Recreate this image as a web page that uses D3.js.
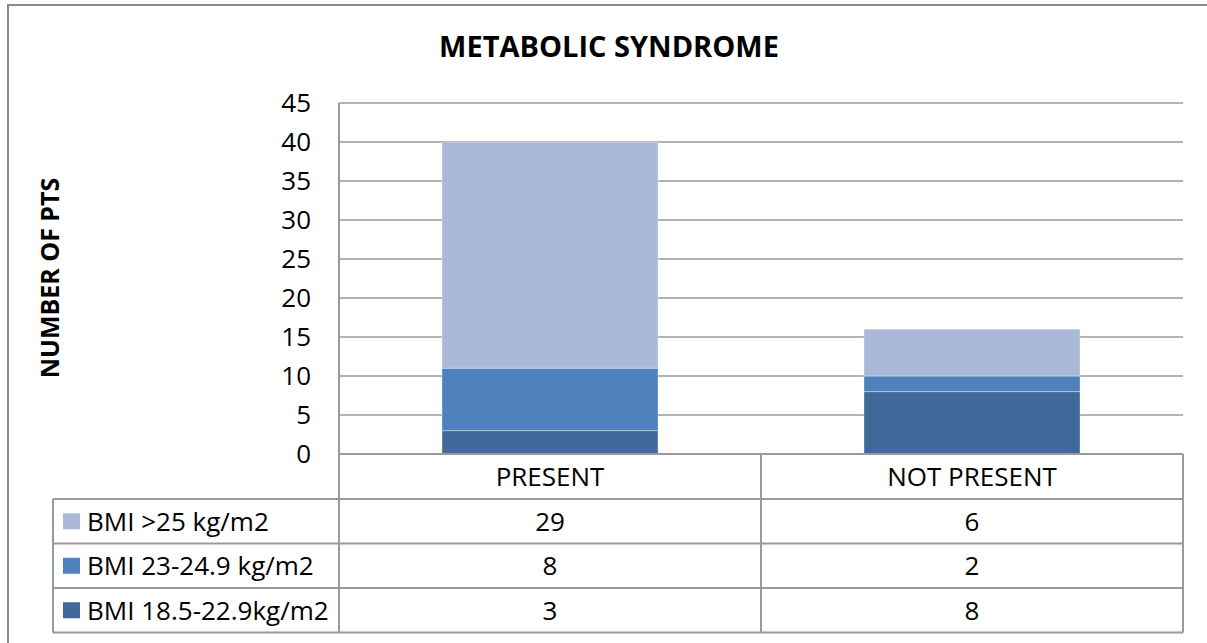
<!DOCTYPE html>
<html>
<head>
<meta charset="utf-8">
<script src="https://cdn.jsdelivr.net/npm/d3@7"></script>
<style>
  html, body { margin: 0; padding: 0; background: #fff; }
  svg { display: block; }
  text { font-family: "Open Sans", "Noto Sans", sans-serif; fill: #000; }
</style>
</head>
<body>
<svg id="chart" width="1207" height="643"></svg>
<script>
// Chart data
const categories = ["PRESENT", "NOT PRESENT"];
const seriesNames = ["BMI >25 kg/m2", "BMI 23-24.9 kg/m2", "BMI 18.5-22.9kg/m2"];
const bmiOver25 = [29, 6];
const bmi23to249 = [8, 2];
const bmi185to229 = [3, 8];
const yTicks = [0, 5, 10, 15, 20, 25, 30, 35, 40, 45];
const seriesColors = ["#AAB9D7", "#4F81BD", "#416A9B"];

const svg = d3.select("#chart");

// Layout
const plot = { left: 339, right: 1183, top: 103, bottom: 454 };
const table = { left: 53, headerBottom: 499, rowH: 44.5 };
const gridColor = "#9a9a9a";
const tableFont = "26px";

// Outer frame (left and top edges)
svg.append("path")
  .attr("d", "M8,660 L8,5 L1220,5")
  .attr("fill", "none").attr("stroke", "#8a8a8a").attr("stroke-width", 2);

const y = d3.scaleLinear().domain([0, 45]).range([plot.bottom, plot.top]);
const x = d3.scaleBand().domain(categories).range([plot.left, plot.right]).padding(0);
const barW = x.bandwidth() * 0.512;

// Horizontal gridlines
svg.append("g").selectAll("line").data(yTicks.filter(d => d > 0)).join("line")
  .attr("x1", plot.left).attr("x2", plot.right)
  .attr("y1", d => y(d)).attr("y2", d => y(d))
  .attr("stroke", gridColor).attr("stroke-width", 1.5);

// Stacked bars: bottom series first
const rows = categories.map((c, i) => ({
  cat: c,
  s0: bmiOver25[i], s1: bmi23to249[i], s2: bmi185to229[i]
}));
const stack = d3.stack().keys(["s2", "s1", "s0"])(rows);
const colorByKey = { s0: seriesColors[0], s1: seriesColors[1], s2: seriesColors[2] };

svg.append("g").selectAll("g").data(stack).join("g")
  .attr("fill", d => colorByKey[d.key])
  .selectAll("rect").data(d => d).join("rect")
  .attr("x", d => x(d.data.cat) + (x.bandwidth() - barW) / 2)
  .attr("width", barW)
  .attr("y", d => y(d[1]))
  .attr("height", d => y(d[0]) - y(d[1]))
  .attr("stroke", "rgba(255,255,255,0.35)").attr("stroke-width", 1);

// Y axis tick labels
const yAxis = d3.axisLeft(y).tickValues(yTicks).tickSize(0).tickPadding(28);
const gy = svg.append("g").attr("transform", `translate(${plot.left},0)`).call(yAxis);
gy.select(".domain").remove();
gy.selectAll("text")
  .style("font-family", "'Open Sans', sans-serif")
  .style("font-size", "26px").attr("fill", "#000");

// Y axis line (extends through the header row)
svg.append("line")
  .attr("x1", plot.left).attr("x2", plot.left)
  .attr("y1", plot.top).attr("y2", table.headerBottom)
  .attr("stroke", gridColor).attr("stroke-width", 2);

// Data table
const tableBottom = table.headerBottom + table.rowH * seriesNames.length;
const tg = svg.append("g");
// x-axis / header top line
tg.append("line").attr("x1", plot.left).attr("x2", plot.right)
  .attr("y1", plot.bottom).attr("y2", plot.bottom)
  .attr("stroke", gridColor).attr("stroke-width", 2);
// row lines
d3.range(seriesNames.length + 1).forEach(i => {
  const yy = table.headerBottom + table.rowH * i;
  tg.append("line").attr("x1", table.left).attr("x2", plot.right)
    .attr("y1", yy).attr("y2", yy)
    .attr("stroke", gridColor).attr("stroke-width", 2);
});
// vertical lines
tg.append("line").attr("x1", table.left).attr("x2", table.left)
  .attr("y1", table.headerBottom).attr("y2", tableBottom)
  .attr("stroke", gridColor).attr("stroke-width", 2);
categories.forEach(c => {
  const xx = x(c) + x.bandwidth();
  tg.append("line").attr("x1", xx).attr("x2", xx)
    .attr("y1", plot.bottom).attr("y2", tableBottom)
    .attr("stroke", gridColor).attr("stroke-width", 2);
});
tg.append("line").attr("x1", plot.left).attr("x2", plot.left)
  .attr("y1", table.headerBottom).attr("y2", tableBottom)
  .attr("stroke", gridColor).attr("stroke-width", 2);

// header labels
tg.selectAll("text.cat").data(categories).join("text")
  .attr("class", "cat")
  .attr("x", d => x(d) + x.bandwidth() / 2)
  .attr("y", (plot.bottom + table.headerBottom) / 2)
  .attr("dy", "0.36em").attr("text-anchor", "middle")
  .style("font-size", tableFont).text(d => d);

// series rows
const seriesValues = [bmiOver25, bmi23to249, bmi185to229];
seriesNames.forEach((name, i) => {
  const cy = table.headerBottom + table.rowH * i + table.rowH / 2;
  tg.append("rect").attr("x", 63).attr("y", cy - 8).attr("width", 17).attr("height", 16)
    .attr("fill", seriesColors[i]);
  tg.append("text").attr("x", 87).attr("y", cy).attr("dy", "0.36em")
    .style("font-size", tableFont).text(name);
  categories.forEach((c, j) => {
    tg.append("text").attr("x", x(c) + x.bandwidth() / 2).attr("y", cy)
      .attr("dy", "0.36em").attr("text-anchor", "middle")
      .style("font-size", tableFont).text(seriesValues[i][j]);
  });
});

// Title
svg.append("text").attr("x", 609).attr("y", 47).attr("dy", "0.36em")
  .attr("text-anchor", "middle")
  .style("font-size", "29px").style("font-weight", "bold")
  .text("METABOLIC SYNDROME");

// Y axis title
svg.append("text")
  .attr("transform", "translate(50,278) rotate(-90)")
  .attr("text-anchor", "middle").attr("dy", "0.36em")
  .style("font-size", "25px").style("font-weight", "bold")
  .text("NUMBER OF PTS");
</script>
</body>
</html>
